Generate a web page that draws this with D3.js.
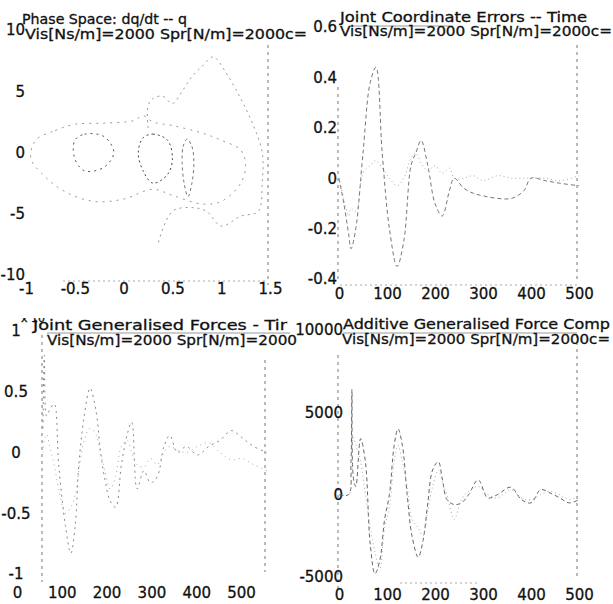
<!DOCTYPE html>
<html lang="en">
<head>
  <meta charset="UTF-8">
  <title>Phase space / joint errors / generalised forces</title>
  <script src="https://d3js.org/d3.v7.min.js"></script>
  <style>
    body { margin: 0; background: #fff; }
    text { font-family: "DejaVu Sans", "Liberation Sans", Arial, sans-serif; fill: #111; stroke: #111; stroke-width: 0.3; }
    .tick text { font-size: 15px; }
    .title { font-size: 14px; }
  </style>
</head>
<body>
  <svg width="613" height="604"></svg>

  <script>
    // ---- data ----
    const titles = [
      ["Phase Space: dq/dt -- q", "Vis[Ns/m]=2000 Spr[N/m]=2000c="],
      ["Joint Coordinate Errors -- Time", "Vis[Ns/m]=2000 Spr[N/m]=2000c="],
      ["Joint Generalised Forces - Tir", "Vis[Ns/m]=2000 Spr[N/m]=2000"],
      ["Additive Generalised Force Comp", "Vis[Ns/m]=2000 Spr[N/m]=2000c="]
    ];

    const phaseXTicks = [-1, -0.5, 0, 0.5, 1, 1.5];
    const phaseYTicks = [-10, -5, 0, 5, 10];
    const timeTicks = [0, 100, 200, 300, 400, 500];
    const errYTicks = [-0.4, -0.2, 0, 0.2, 0.4, 0.6];
    const forceYTicks = [-1, -0.5, 0, 0.5, 1];
    const addYTicks = [-5000, 0, 5000, 10000];

    // phase space loops: [q, dq/dt]
    const loopOuter = [[0.25,2.0],[0.25,3.8],[0.3,4.4],[0.4,4.6],[0.5,4.0],[0.6,5.0],[0.7,6.2],[0.8,7.0],[0.92,7.8],
      [1.05,6.5],[1.2,4.4],[1.33,2.2],[1.42,0],[1.42,-2.5],[1.38,-4.8],[1.2,-5.2],[1.0,-6.0],[0.85,-4.8],
      [0.7,-4.5],[0.5,-4.8],[0.35,-7.5]];
    const loopMiddle = [[-0.9,1.0],[-0.7,1.8],[-0.5,2.3],[-0.2,2.4],[0.1,2.6],[0.2,3.0],[0.3,2.5],[0.5,2.2],
      [0.8,1.6],[1.0,1.0],[1.2,0.2],[1.25,-1.0],[1.2,-2.5],[1.0,-4.0],[0.8,-4.2],[0.5,-3.5],[0.3,-3.0],
      [0.0,-3.8],[-0.3,-4.0],[-0.6,-3.2],[-0.8,-2.0],[-0.95,-0.5]];
    const loopEllipse = [[0.65,1.1],[0.7,0.5],[0.72,-0.8],[0.7,-2.5],[0.66,-3.6],[0.62,-2.5],[0.6,-0.8],[0.61,0.5]];
    const loopLeft = [[-0.5,1.0],[-0.4,1.5],[-0.2,1.3],[-0.1,0.0],[-0.2,-1.2],[-0.4,-1.5],[-0.5,-0.5]];
    const loopRight = [[0.2,1.2],[0.3,1.5],[0.45,1.0],[0.5,-0.5],[0.45,-1.8],[0.3,-2.5],[0.2,-1.5],[0.15,0]];

    // joint coordinate errors vs time
    const errT = [0,10,20,25,35,50,65,77,90,105,121,135,150,160,171,185,200,215,230,240,260,280,300,330,360,385,400,430,460,500];
    const errA = [0,-0.1,-0.22,-0.28,-0.2,0.1,0.38,0.44,0.1,-0.2,-0.35,-0.25,0.05,0.1,0.15,0.05,-0.1,-0.15,-0.05,0,
      -0.04,-0.06,-0.07,-0.08,-0.08,-0.05,0,-0.01,-0.02,-0.03];
    const errB = [0,-0.08,-0.15,-0.12,-0.13,0.02,0.05,0.07,0.04,0.0,-0.03,0.0,0.08,0.1,0.06,0.03,0.05,0.02,0.04,0.0,
      0.0,0.01,-0.01,0.01,0.0,0.0,0.0,0.0,-0.01,0.01];

    // joint generalised forces (x 10^4) vs time
    const forceT = [0,3,8,15,25,35,50,62,72,80,92,105,118,128,138,150,162,175,188,198,210,225,240,255,270,283,300,320,345,370,395,420,445,470,500];
    const forceA = [0.2,0.8,0.3,0.35,0.4,-0.1,-0.6,-0.83,-0.6,-0.1,0.3,0.53,0.35,0.02,-0.22,-0.4,-0.45,-0.1,0.15,0.25,
      -0.3,-0.15,-0.25,-0.2,0.05,0.14,0.0,0.05,-0.02,0.05,0.1,0.18,0.12,0.05,0.0];
    const forceB = [0,0.1,0.15,0.05,-0.1,-0.3,-0.5,-0.45,-0.35,-0.15,0.1,0.2,0.15,0.0,-0.15,-0.3,-0.2,0.05,0.1,0.0,
      -0.1,-0.12,-0.05,-0.1,0.0,0.05,0.02,0.0,0.05,0.08,0.0,-0.06,-0.05,-0.1,-0.15];

    // additive generalised force components vs time
    const addT = [0,20,25,27,30,35,45,55,65,75,85,95,105,115,123,132,142,152,165,175,185,195,207,215,225,240,255,270,290,310,330,358,380,400,420,440,460,480,500];
    const addA = [0,0,2000,6400,1000,500,3400,2000,-3000,-4800,-4000,-1500,0,3000,4000,3000,0,-2500,-3800,-2800,
      -500,1500,2000,1000,-300,-600,-500,0,900,-200,0,450,-300,-500,300,100,-200,-500,-300];
    const addB = [0,0,500,1500,3500,3000,2000,0,-2000,-3500,-4500,-2000,-800,2000,3000,2000,500,-1500,-2000,-2500,
      -1000,500,1500,800,0,-1500,-300,200,500,0,-200,300,-200,-300,0,200,0,-300,-100];

    const svg = d3.select("svg");
    const plain = d => String(d);   // ascii hyphen minus, like the original

    // panel layout (pixel boxes measured on the picture)
    const panels = [
      { xd: [-1, 1.5], xr: [26, 270], yd: [-10, 10], yr: [275, 30], xt: phaseXTicks, yt: phaseYTicks,
        yLab: 25, yAnchor: "end", xLab: 283, xShift: 0,
        t1: [22, 24, 165], t2: [25, 39, 282], box: { right: [45, 285], bottom: [63, 267] } },
      { xd: [0, 500], xr: [339, 579], yd: [-0.4, 0.6], yr: [279, 27], xt: timeTicks, yt: errYTicks,
        yLab: 337, yAnchor: "end", xLab: 288, xShift: 0,
        t1: [340, 22, 247], t2: [340, 36, 272], box: { left: [87, 283], right: [45, 280], bottom: [340, 578], top: [350, 453] } },
      { xd: [0, 500], xr: [43, 267], yd: [-1, 1], yr: [574, 331], xt: timeTicks, yt: forceYTicks,
        yLab: 16, yAnchor: "middle", xLab: 587, xShift: -26,
        t1: [33, 330, 254], t2: [47, 345, 250], box: { left: [335, 582], right: [360, 572], top: [47, 290] } },
      { xd: [0, 500], xr: [339, 579], yd: [-5000, 10000], yr: [577, 330], xt: timeTicks, yt: addYTicks,
        yLab: 343, yAnchor: "end", xLab: 589, xShift: 0,
        t1: [343, 329, 267], t2: [342, 344, 268], box: { left: [355, 590], right: [335, 580], top: [343, 577], bottom: [400, 480] } }
    ];

    panels.forEach((p, i) => {
      p.x = d3.scaleLinear().domain(p.xd).range(p.xr);
      p.y = d3.scaleLinear().domain(p.yd).range(p.yr);
      const g = svg.append("g").attr("class", "panel-" + i);

      // faint, broken axes box as it survives in the scan
      const b = p.box, x0 = p.xr[0], x1 = p.xr[1], yB = p.yr[0];
      const edge = (ax, ay, bx, by, dash, col) => g.append("line")
        .attr("x1", ax).attr("y1", ay).attr("x2", bx).attr("y2", by)
        .attr("stroke", col).attr("stroke-width", 1).attr("stroke-dasharray", dash);
      if (b.left) edge(x0 - 1, b.left[0], x0 - 1, b.left[1], "3,4", "#777");
      if (b.right) edge(x1 - 2, b.right[0], x1 - 2, b.right[1], "3,4", "#777");
      if (b.bottom) edge(b.bottom[0], yB + 6, b.bottom[1], yB + 6, "2,3", "#aaa");
      if (b.top) edge(b.top[0], i < 2 ? 26 : 333, b.top[1], i < 2 ? 26 : 333, null, "#999");

      // tick labels
      const ya = d3.axisLeft(p.y).tickValues(p.yt).tickSize(0).tickPadding(0).tickFormat(plain);
      g.append("g").attr("transform", `translate(${p.yLab},0)`).call(ya)
        .attr("text-anchor", p.yAnchor)
        .call(s => s.select(".domain").remove());

      const xa = d3.axisBottom(p.x).tickValues(p.xt).tickSize(0).tickPadding(0).tickFormat(plain);
      g.append("g").attr("transform", `translate(${p.xShift},${p.xLab})`).call(xa)
        .call(s => s.select(".domain").remove());

      g.selectAll(".tick text").attr("fill", "#111");

      // titles (scan is stretched sideways, so fit to measured width)
      const t1 = g.append("text").attr("class", "title")
        .attr("x", p.t1[0]).attr("y", p.t1[1])
        .attr("textLength", p.t1[2]).attr("lengthAdjust", "spacingAndGlyphs")
        .text(titles[i][0]);
      g.append("text").attr("class", "title")
        .attr("x", p.t2[0]).attr("y", p.t2[1])
        .attr("textLength", p.t2[2]).attr("lengthAdjust", "spacingAndGlyphs")
        .text(titles[i][1]);

      if (i === 2) {
        // first title line and the exponent are cut off at the top in the scan
        svg.append("clipPath").attr("id", "cut3")
          .append("rect").attr("x", 0).attr("y", 318).attr("width", 300).attr("height", 40);
        t1.attr("clip-path", "url(#cut3)");
        g.append("text").attr("x", 21).attr("y", 322).attr("font-size", 11)
          .attr("clip-path", "url(#cut3)").text("x 10");
      }
    });

    // ---- marks ----
    const drawSeries = (p, ts, vs, col, dash, w) => {
      const line = d3.line().x(d => p.x(d[0])).y(d => p.y(d[1])).curve(d3.curveCatmullRom);
      svg.append("path").datum(ts.map((t, k) => [t, vs[k]]))
        .attr("fill", "none").attr("stroke", col).attr("stroke-width", w || 1)
        .attr("stroke-dasharray", dash).attr("d", line);
    };
    const drawLoop = (p, pts, col, dash, closed) => {
      const line = d3.line().x(d => p.x(d[0])).y(d => p.y(d[1]))
        .curve(closed ? d3.curveCatmullRomClosed : d3.curveCatmullRom);
      svg.append("path").datum(pts)
        .attr("fill", "none").attr("stroke", col).attr("stroke-width", 1)
        .attr("stroke-dasharray", dash).attr("d", line);
    };

    const [p1, p2, p3, p4] = panels;

    drawLoop(p1, loopOuter, "#999", "2,4", false);
    drawLoop(p1, loopMiddle, "#999", "2,5", true);
    drawLoop(p1, loopEllipse, "#777", "3,3", true);
    drawLoop(p1, loopLeft, "#555", "2,4", true);
    drawLoop(p1, loopRight, "#444", "2,3", true);

    drawSeries(p2, errT, errA, "#777", "4,3");
    drawSeries(p2, errT, errB, "#aaa", "1,3");

    drawSeries(p3, forceT, forceA, "#888", "2,4");
    drawSeries(p3, forceT, forceB, "#aaa", "1,4");

    drawSeries(p4, addT, addA, "#666", "4,3");
    drawSeries(p4, addT, addB, "#aaa", "1,3");
  </script>
</body>
</html>
